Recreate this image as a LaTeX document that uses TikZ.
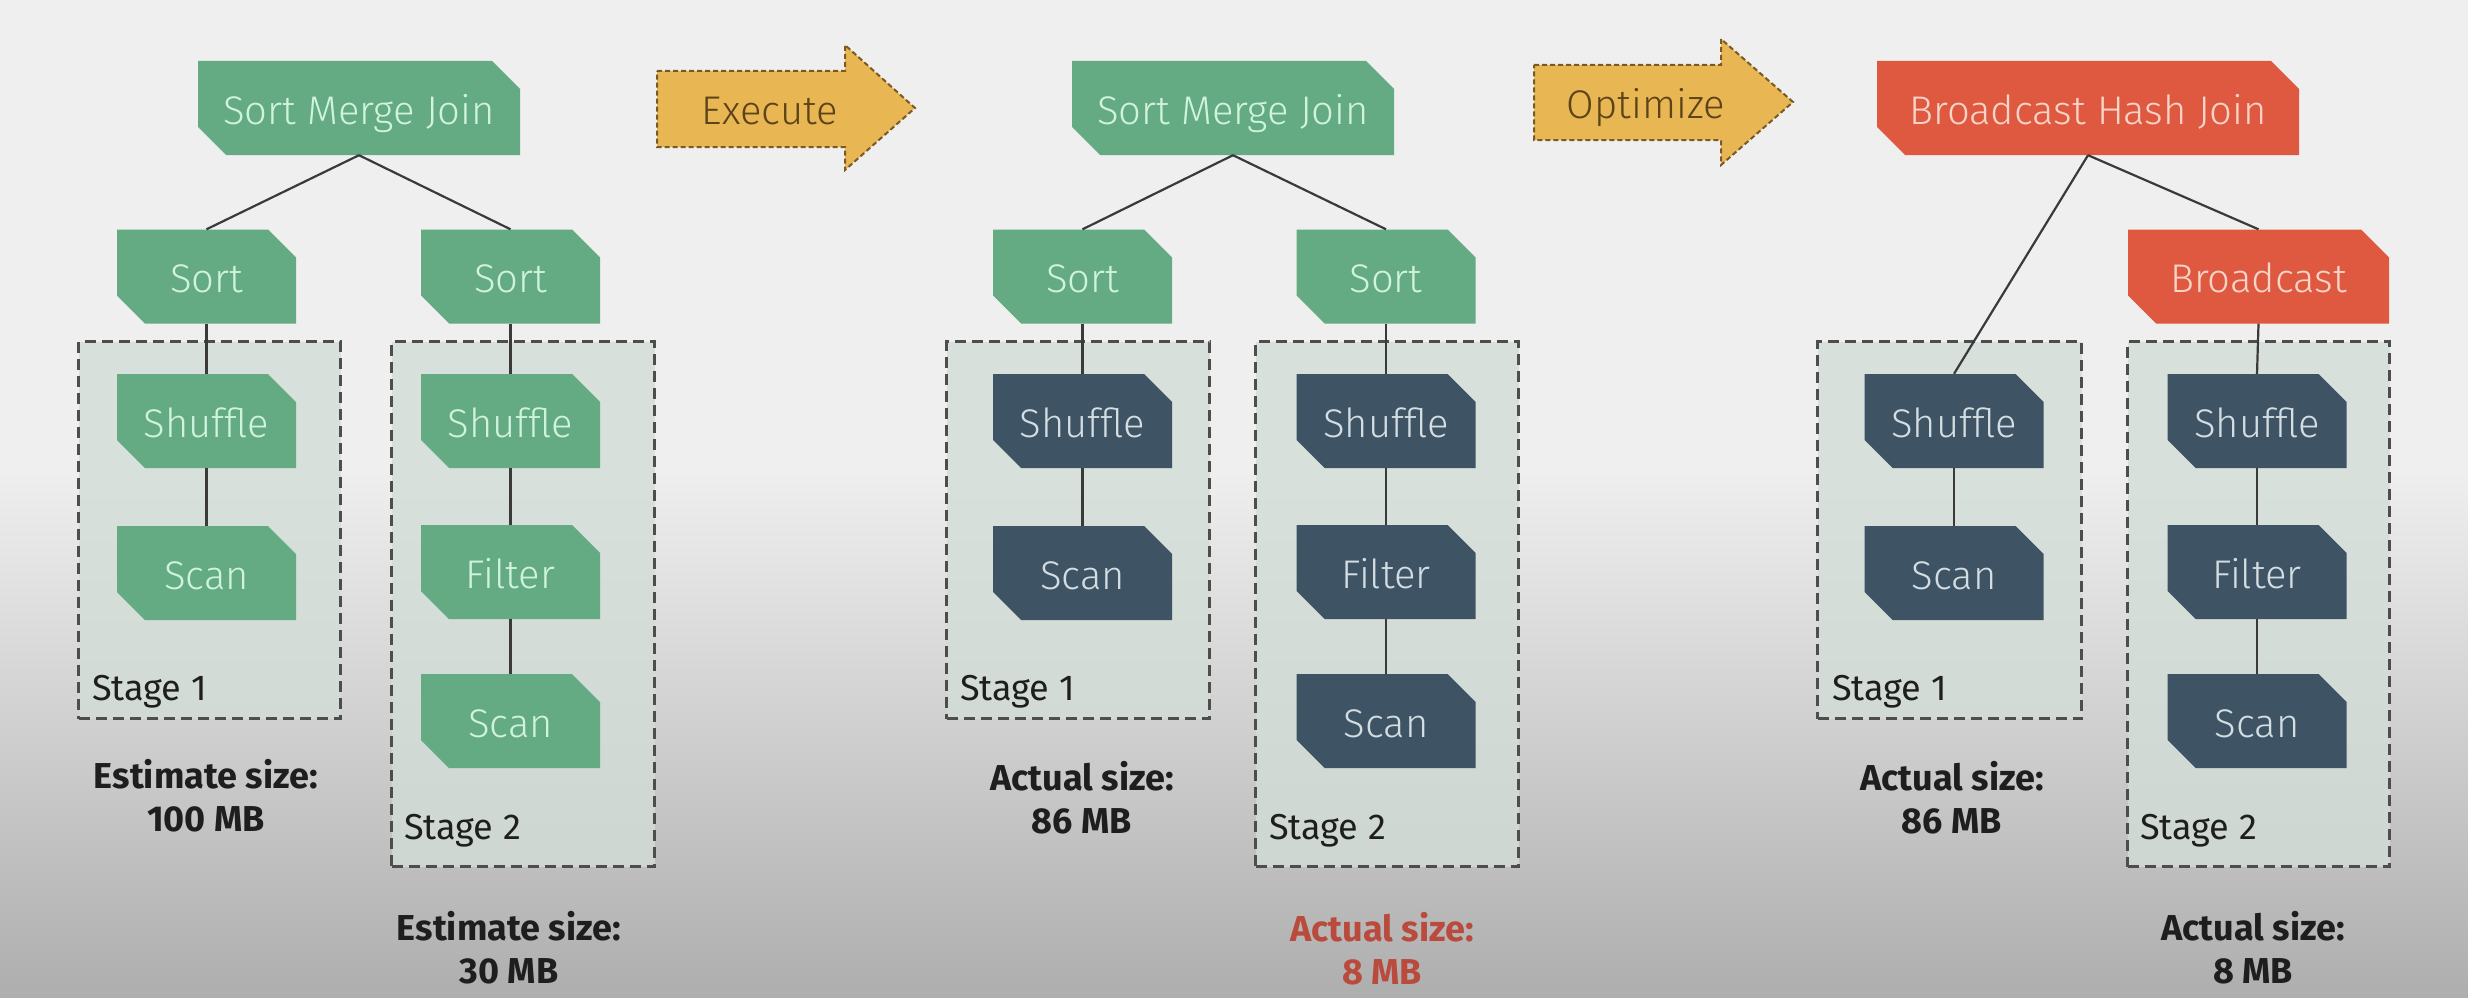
\documentclass[tikz,border=0pt]{standalone}
\usepackage{fontspec}
\setmainfont{Fira Sans}
\newfontfamily\opfont{Fira Sans Light}
\usetikzlibrary{shapes.misc}
\definecolor{bgtop}{HTML}{EFEFEF}
\definecolor{bgbot}{HTML}{AEAEAE}
\definecolor{cgreen}{HTML}{64AA83}
\definecolor{cgreentext}{HTML}{CFF3DC}
\definecolor{cdark}{HTML}{3E5465}
\definecolor{cdarktext}{HTML}{D3DDE2}
\definecolor{cred}{HTML}{DE593F}
\definecolor{credtext}{HTML}{F8D4C8}
\definecolor{cyellow}{HTML}{E9B654}
\definecolor{cyellowline}{HTML}{7A5A22}
\definecolor{cyellowtext}{HTML}{5C4418}
\definecolor{cstage}{HTML}{D2DDD6}
\definecolor{cstageline}{HTML}{4D4D4D}
\definecolor{cline}{HTML}{3A3A3A}
\definecolor{ctext}{HTML}{1E1E1E}
\definecolor{credlabel}{HTML}{B94A3C}
\begin{document}
\begin{tikzpicture}[x=1pt,y=-1pt,
  op/.style={chamfered rectangle, chamfered rectangle corners={north east,south west},
    chamfered rectangle xsep=14pt, chamfered rectangle ysep=14pt, draw=none,
    inner sep=0pt, minimum height=94pt, minimum width=179pt,
    text height=32pt, text depth=0pt,
    font=\opfont\fontsize{40}{48}\selectfont},
  grn/.style={op, fill=cgreen, text=cgreentext},
  drk/.style={op, fill=cdark, text=cdarktext},
  rd/.style={op, fill=cred, text=credtext},
  stagebox/.style={draw=cstageline, line width=3pt, dash pattern=on 11pt off 6pt,
    fill=cstage, fill opacity=0.8, anchor=north west, inner sep=0pt},
  stagelbl/.style={anchor=base west, font=\fontsize{36}{42}\selectfont, text=ctext, inner sep=0pt},
  sizelbl/.style={font=\bfseries\fontsize{36}{43}\selectfont, text=ctext, align=center, inner sep=0pt},
  conn/.style={draw=cline, line width=2.2pt},
  blockarrow/.style={fill=cyellow, draw=cyellowline, line width=2pt, dash pattern=on 5pt off 3pt},
  arrowtext/.style={font=\opfont\fontsize{40}{48}\selectfont, text=cyellowtext, inner sep=0pt,
    text height=32pt, text depth=0pt}
]
\useasboundingbox (0,0) rectangle (2468,998);
% background
\fill[bgtop] (0,0) rectangle (2468,998);
\shade[top color=bgtop, bottom color=bgbot] (0,470) rectangle (2468,998);

% ---------------- stage boxes
\node[stagebox, minimum width=262pt, minimum height=377pt] (stA1) at (77,340) {};
\node[stagebox, minimum width=263pt, minimum height=525pt] (stA2) at (390,340) {};
\node[stagebox, minimum width=263pt, minimum height=377pt] (stB1) at (945,340) {};
\node[stagebox, minimum width=263pt, minimum height=525pt] (stB2) at (1254,340) {};
\node[stagebox, minimum width=264pt, minimum height=377pt] (stC1) at (1816,340) {};
\node[stagebox, minimum width=262pt, minimum height=525pt] (stC2) at (2126,340) {};

\node[stagelbl] (lA1) at (92,700) {Stage 1};
\node[stagelbl] (lA2) at (404,839) {Stage 2};
\node[stagelbl] (lB1) at (960,700) {Stage 1};
\node[stagelbl] (lB2) at (1269,839) {Stage 2};
\node[stagelbl] (lC1) at (1832,700) {Stage 1};
\node[stagelbl] (lC2) at (2140,839) {Stage 2};

% ---------------- panel A
\node[grn, minimum width=322pt] (smjA) at (359,108) {Sort Merge Join};
\node[grn] (sortA1) at (206.5,276.5) {Sort};
\node[grn] (sortA2) at (510.5,276.5) {Sort};
\node[grn] (shufA1) at (206.5,421) {Shuffle};
\node[grn] (scanA1) at (206.5,573) {Scan};
\node[grn] (shufA2) at (510.5,421) {Shuffle};
\node[grn] (filtA2) at (510.5,572) {Filter};
\node[grn] (scanA2) at (510.5,721) {Scan};

% ---------------- panel B
\node[grn, minimum width=322pt] (smjB) at (1233,108) {Sort Merge Join};
\node[grn] (sortB1) at (1082.5,276.5) {Sort};
\node[grn] (sortB2) at (1386,276.5) {Sort};
\node[drk] (shufB1) at (1082.5,421) {Shuffle};
\node[drk] (scanB1) at (1082.5,573) {Scan};
\node[drk] (shufB2) at (1386,421) {Shuffle};
\node[drk] (filtB2) at (1386,572) {Filter};
\node[drk] (scanB2) at (1386,721) {Scan};

% ---------------- panel C
\node[rd, minimum width=422pt] (bhj) at (2088,108) {Broadcast Hash Join};
\node[rd, minimum width=261pt] (bc) at (2258.5,276.5) {Broadcast};
\node[drk] (shufC1) at (1954,421) {Shuffle};
\node[drk] (scanC1) at (1954,573) {Scan};
\node[drk] (shufC2) at (2257,421) {Shuffle};
\node[drk] (filtC2) at (2257,572) {Filter};
\node[drk] (scanC2) at (2257,721) {Scan};

% ---------------- connectors
\draw[conn] (smjA.south) -- (sortA1.north);
\draw[conn] (smjA.south) -- (sortA2.north);
\draw[conn] (sortA1.south) -- (shufA1.north);
\draw[conn] (shufA1.south) -- (scanA1.north);
\draw[conn] (sortA2.south) -- (shufA2.north);
\draw[conn] (shufA2.south) -- (filtA2.north);
\draw[conn] (filtA2.south) -- (scanA2.north);

\draw[conn] (smjB.south) -- (sortB1.north);
\draw[conn] (smjB.south) -- (sortB2.north);
\draw[conn] (sortB1.south) -- (shufB1.north);
\draw[conn] (shufB1.south) -- (scanB1.north);
\draw[conn] (sortB2.south) -- (shufB2.north);
\draw[conn] (shufB2.south) -- (filtB2.north);
\draw[conn] (filtB2.south) -- (scanB2.north);

\draw[conn] (bhj.south) -- (shufC1.north);
\draw[conn] (bhj.south) -- (bc.north);
\draw[conn] (shufC1.south) -- (scanC1.north);
\draw[conn] (bc.south) -- (shufC2.north);
\draw[conn] (shufC2.south) -- (filtC2.north);
\draw[conn] (filtC2.south) -- (scanC2.north);

% ---------------- size labels
\node[sizelbl] (szA1) at (206,796) {Estimate size:\\100 MB};
\node[sizelbl] (szA2) at (509,948) {Estimate size:\\30 MB};
\node[sizelbl] (szB1) at (1082,798) {Actual size:\\86 MB};
\node[sizelbl, text=credlabel] (szB2) at (1382,949) {Actual size:\\8 MB};
\node[sizelbl] (szC1) at (1952,798) {Actual size:\\86 MB};
\node[sizelbl] (szC2) at (2253,948) {Actual size:\\8 MB};

% ---------------- block arrows
\draw[blockarrow] (657,71) -- (845,71) -- (845,45) -- (915,108) -- (845,170) -- (845,147) -- (657,147) -- cycle;
\node[arrowtext] (exec) at (770,108) {Execute};
\draw[blockarrow] (1534,65) -- (1721,65) -- (1721,39) -- (1793,102) -- (1721,165) -- (1721,140) -- (1534,140) -- cycle;
\node[arrowtext] (optim) at (1646,102) {Optimize};
\end{tikzpicture}
\end{document}
